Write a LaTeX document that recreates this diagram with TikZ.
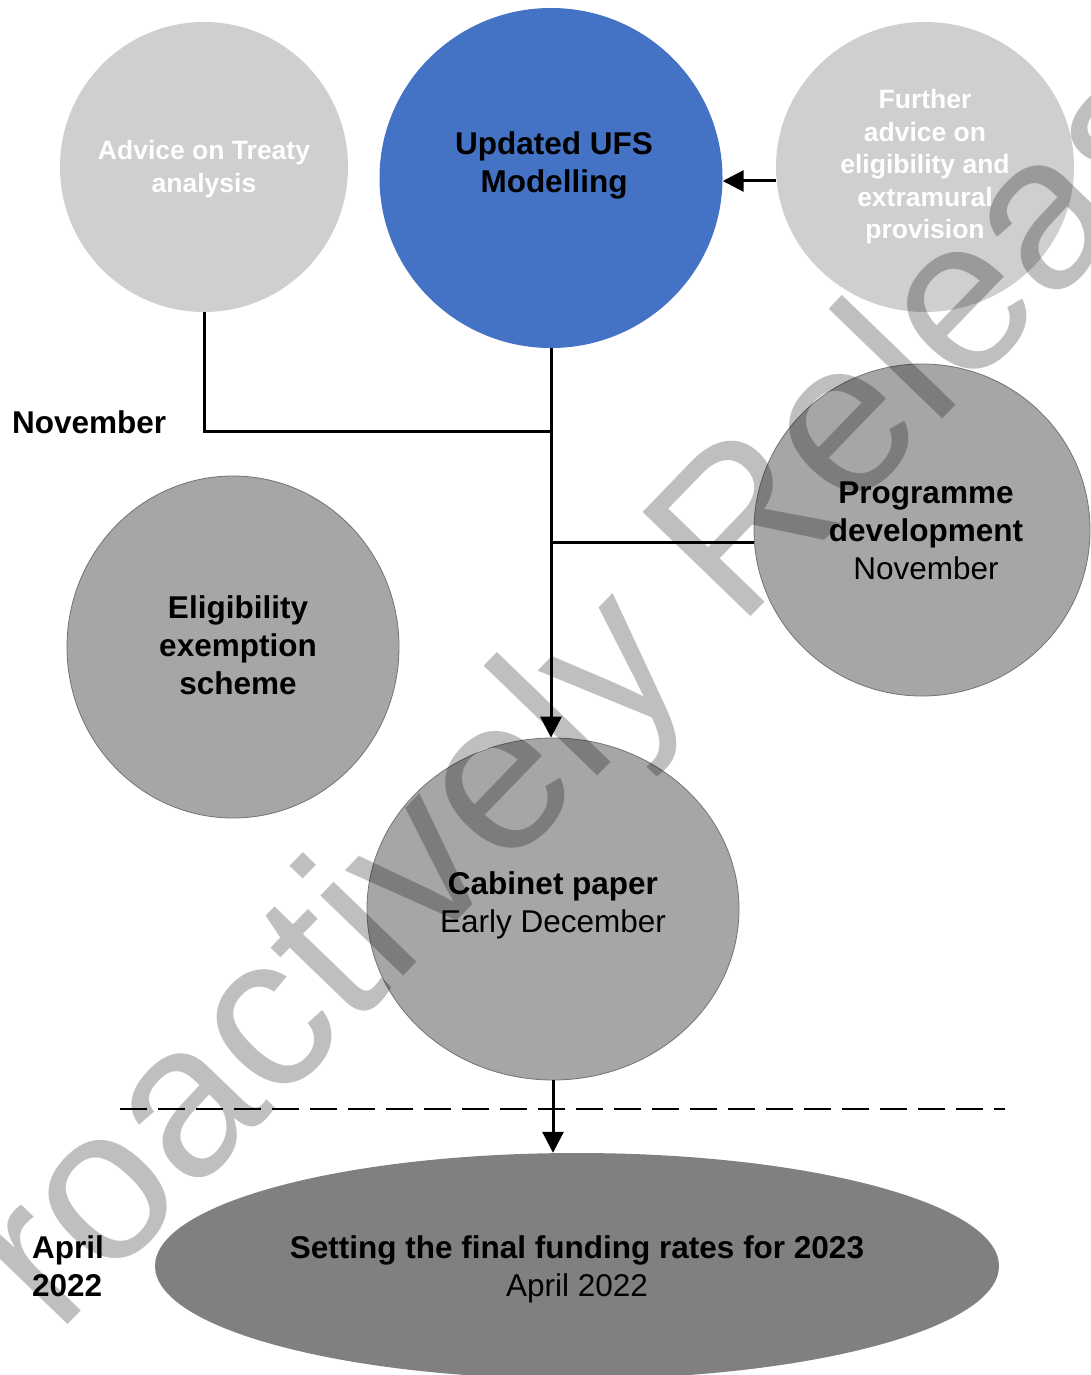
\documentclass[tikz,border=0pt]{standalone}
\usepackage{fontspec}
\setmainfont{Liberation Sans}
\usetikzlibrary{arrows.meta,shapes.geometric}
\definecolor{PaleGrey}{RGB}{208,206,206}
\definecolor{UfsBlue}{RGB}{68,114,196}
\definecolor{MidGrey}{RGB}{166,166,166}
\definecolor{RimGrey}{RGB}{115,115,115}
\definecolor{DarkGrey}{RGB}{128,128,128}

\tikzset{
  bubble/.style={ellipse, inner sep=0pt, draw=none},
  body/.style={font=\fontsize{31.5}{38}\selectfont, align=center, text=black, inner sep=0pt},
  faint/.style={font=\bfseries\fontsize{26.5}{32.5}\selectfont, align=center, text=white, inner sep=0pt},
  link/.style={line width=3pt},
  feed/.style={line width=3pt, -{Triangle[length=21pt,width=21pt]}},
  stamp/.style={font=\fontsize{218}{218}\selectfont, text=black, text opacity=0.25, inner sep=0pt},
}

\begin{document}
\begin{tikzpicture}[x=1pt, y=-1pt]
  \useasboundingbox (0,0) rectangle (1090,1375);
  \fill[white] (0,0) rectangle (1090,1375);

  % --- Bubbles ---
  \node[bubble, fill=PaleGrey, minimum width=288pt, minimum height=290pt] (treaty) at (204,167) {};
  \node[bubble, fill=UfsBlue, minimum width=343pt, minimum height=340pt] (ufs) at (551,178) {};
  \node[bubble, fill=PaleGrey, minimum width=298pt, minimum height=290pt] (further) at (925,167) {};
  \node[bubble, fill=MidGrey, draw=RimGrey, line width=0.8pt, minimum width=336pt, minimum height=332pt] (prog) at (922,530) {};
  \node[bubble, fill=MidGrey, draw=RimGrey, line width=0.8pt, minimum width=332pt, minimum height=342pt] (elig) at (233,647) {};
  \node[bubble, fill=MidGrey, draw=RimGrey, line width=0.8pt, minimum width=372pt, minimum height=342pt] (cab) at (553,909) {};
  \node[bubble, fill=DarkGrey, minimum width=844pt, minimum height=226pt] (fund) at (577,1266) {};

  % --- Texts ---
  \node[faint] (treatytxt) at (204,169) {Advice on Treaty\\analysis};
  \node[body, font=\bfseries\fontsize{31.5}{38}\selectfont] (ufstxt) at (554,165) {Updated UFS\\Modelling};
  \node[faint] (furthertxt) at (925,167) {Further\\advice on\\eligibility and\\extramural\\provision};
  \node[body] (progtxt) at (926,531) {\textbf{Programme}\\\textbf{development}\\November};
  \node[body, font=\bfseries\fontsize{31.5}{38}\selectfont] (eligtxt) at (238,645) {Eligibility\\exemption\\scheme};
  \node[body] (cabtxt) at (553,905) {\textbf{Cabinet paper}\\Early December};
  \node[body] (fundtxt) at (577,1269) {\textbf{Setting the final funding rates for 2023}\\April 2022};

  % --- Time labels ---
  \node[body, font=\bfseries\fontsize{31.5}{38}\selectfont, anchor=west] (nov) at (12,422) {November};
  \node[body, font=\bfseries\fontsize{31.5}{38}\selectfont, align=left, anchor=west] (apr) at (32,1266) {April\\2022};

  % --- Connectors ---
  \coordinate (join1) at (551,431);
  \coordinate (join2) at (551,542);
  \draw[link] (treaty.south) |- (join1);
  \draw[feed] (ufs.south) -- (ufs.south |- cab.north);
  \draw[link] (join2) -- (join2 -| prog.west);
  \draw[feed] ([yshift=-3pt]further.west |- ufs.east) -- ([yshift=-3pt]ufs.east);
  \draw[feed] (cab.south) -- (cab.south |- fund.north);

  % --- Cut-off line ---
  \draw[line width=2.6pt, dash pattern=on 27pt off 11pt] (120,1109) -- (1005,1109);

  % --- Watermark ---
  \begin{scope}
    \clip (0,0) rectangle (1090,1375);
    \node[stamp, anchor=base west, rotate=46] (wm) at (-44,1440) {Proactively Released};
  \end{scope}
\end{tikzpicture}
\end{document}
